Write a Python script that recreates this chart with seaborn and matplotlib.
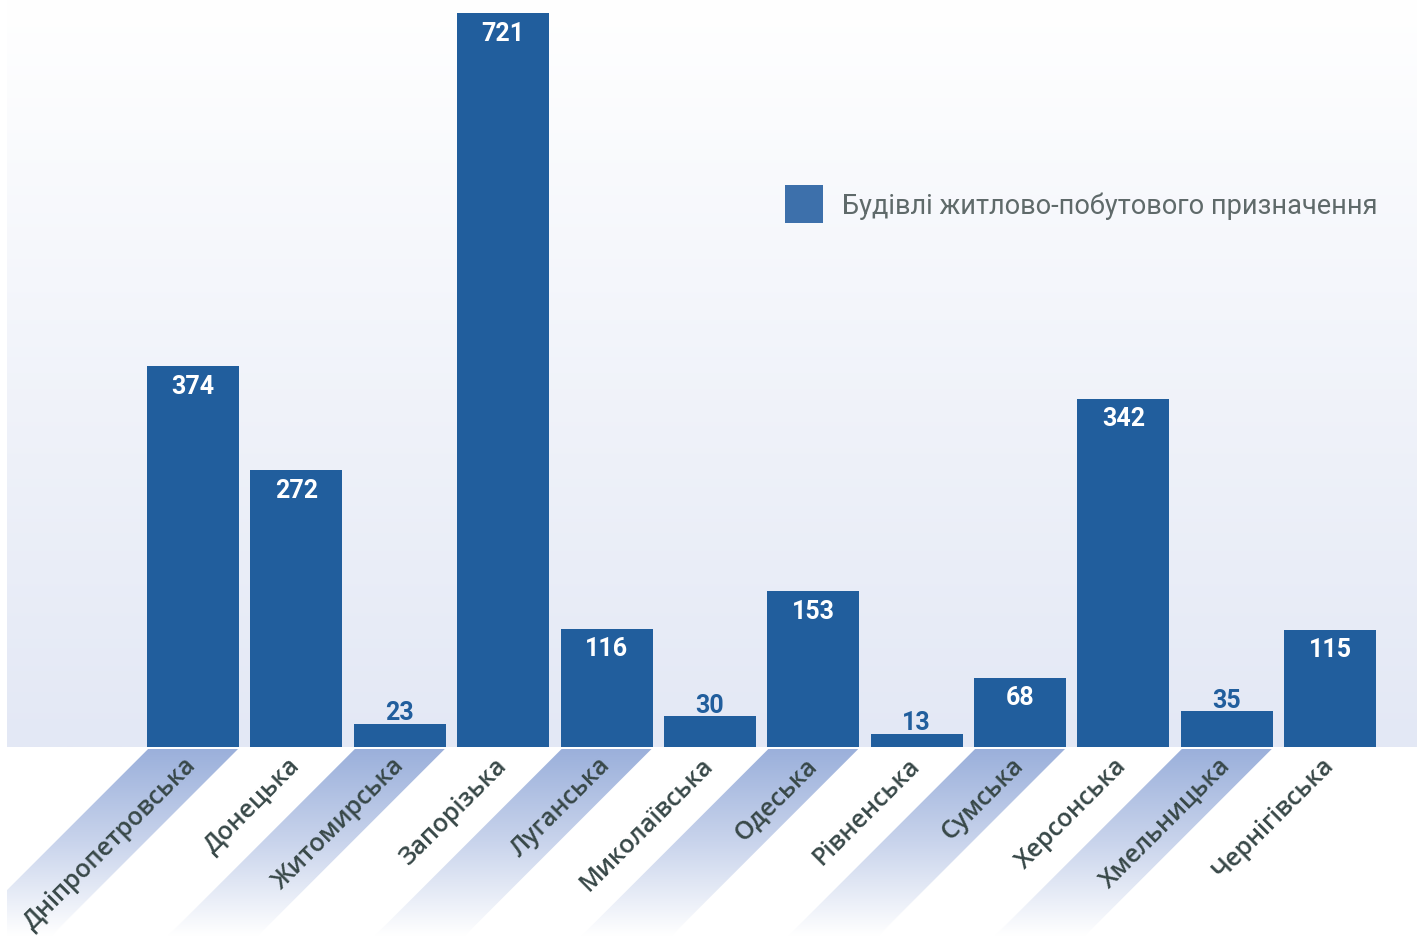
import numpy as np
import pandas as pd
import matplotlib
matplotlib.use("Agg")
import matplotlib.pyplot as plt
from matplotlib.patches import Polygon, Patch
from matplotlib.colors import LinearSegmentedColormap
import seaborn as sns

# Chart data
regions = ["Дніпропетровська", "Донецька", "Житомирська", "Запорізька", "Луганська",
           "Миколаївська", "Одеська", "Рівненська", "Сумська", "Херсонська",
           "Хмельницька", "Чернігівська"]
buildings = [374, 272, 23, 721, 116, 30, 153, 13, 68, 342, 35, 115]
series_name = "Будівлі житлово-побутового призначення"

df = pd.DataFrame({"region": regions, "count": buildings})

sns.set_theme(style="white")
plt.rcParams["font.family"] = ["Open Sans", "DejaVu Sans"]

W, H = 1424, 937
fig = plt.figure(figsize=(W / 100, H / 100), dpi=100)
fig.patch.set_facecolor("white")

ax_l, ax_r, ax_top, ax_bot = 7, 1417, 0, 748
ax = fig.add_axes([ax_l / W, 1 - ax_bot / H, (ax_r - ax_l) / W, (ax_bot - ax_top) / H])

bar_color = "#215e9d"
sns.barplot(data=df, x="region", y="count", color=bar_color, width=0.89,
            saturation=1, linewidth=0, edgecolor="none", ax=ax, zorder=2)

xlim = (-1.80, 11.84)
ylim = (0, 735)
ax.set_xlim(*xlim)
ax.set_ylim(*ylim)

# soft vertical gradient behind the bars
bg_cmap = LinearSegmentedColormap.from_list("bg", ["#e3e8f5", "#ffffff"])
grad = np.linspace(0, 1, 256).reshape(-1, 1)
ax.imshow(grad, cmap=bg_cmap, extent=[xlim[0], xlim[1], ylim[0], ylim[1]],
          origin="lower", aspect="auto", zorder=0)

for s in ax.spines.values():
    s.set_visible(False)
ax.set_yticks([])
ax.set_xlabel("")
ax.set_ylabel("")
ax.tick_params(axis="x", length=0, pad=10)
ax.set_xticks(range(len(regions)))
ax.set_xticklabels(regions, rotation=45, ha="right", va="center",
                   rotation_mode="anchor", fontsize=18, fontweight="semibold",
                   color="#384848")

# value labels
num_font = ["Liberation Sans Narrow", "Roboto"]
for i, v in enumerate(buildings):
    if v >= 50:
        ax.annotate(str(v), (i, v), xytext=(0, -14), textcoords="offset points",
                    ha="center", va="center", color="white", fontsize=18,
                    fontweight="bold", family=num_font, zorder=3)
    else:
        ax.annotate(str(v), (i, v), xytext=(0, 8.5), textcoords="offset points",
                    ha="center", va="center", color=bar_color, fontsize=18,
                    fontweight="bold", family=num_font, zorder=3)

# diagonal stripes under every other label
lab_top = 750
lab = fig.add_axes([ax_l / W, 0, (ax_r - ax_l) / W, (H - lab_top) / H], zorder=-1)
px_per_unit = (ax_r - ax_l) / (xlim[1] - xlim[0])
sh = (H - lab_top) / px_per_unit
lab.axis("off")
stripe_cmap = LinearSegmentedColormap.from_list("st", ["#ffffff", "#c9d4ec", "#9bb0db"])
hw = 0.87 / 2
for i in range(0, len(regions), 2):
    poly = Polygon([(i - hw, sh), (i + hw, sh), (i + hw - sh, 0), (i - hw - sh, 0)],
                   closed=True, facecolor="none", edgecolor="none")
    lab.add_patch(poly)
    im = lab.imshow(grad, cmap=stripe_cmap, extent=[i - hw - sh, i + hw, 0, sh],
                    origin="lower", aspect="auto")
    im.set_clip_path(poly)
lab.set_xlim(*xlim)
lab.set_ylim(0, sh)

# legend
handle = Patch(facecolor="#3d70ab", edgecolor="none")
fig.legend([handle], [series_name], loc="upper left",
           bbox_to_anchor=(785 / W, 1 - 186 / H), frameon=False,
           borderpad=0, borderaxespad=0, handlelength=1.4, handleheight=1.785,
           handletextpad=0.72, prop={"family": "Roboto", "size": 19.5},
           labelcolor="#5f6a6a")

fig.savefig("out.png", dpi=100)
